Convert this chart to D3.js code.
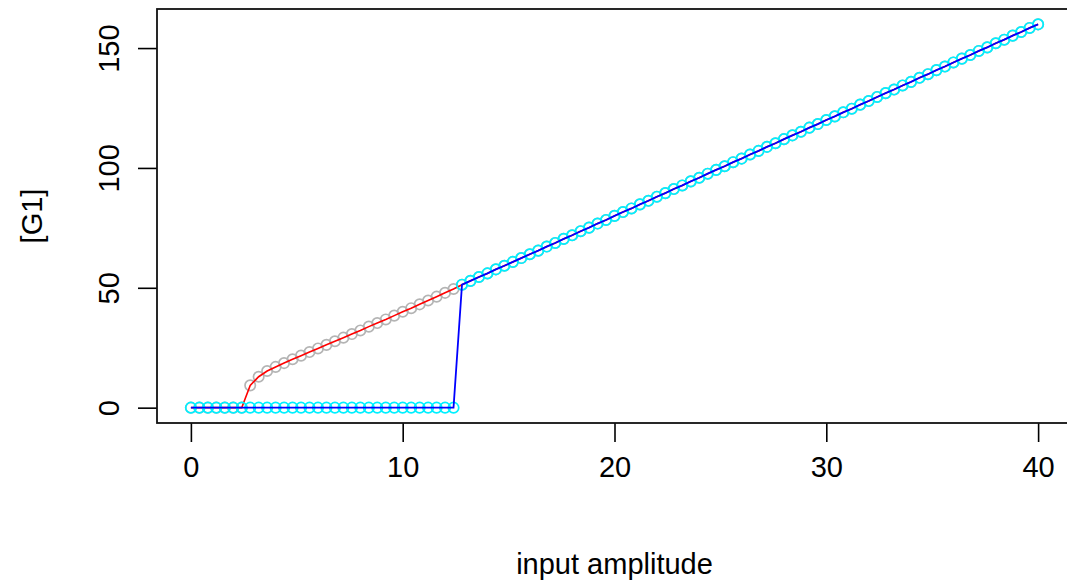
<!DOCTYPE html>
<html>
<head>
<meta charset="utf-8">
<script src="https://cdn.jsdelivr.net/npm/d3@7"></script>
<style>
  html, body { margin: 0; padding: 0; background: #fff; }
  svg { display: block; }
  text { font-family: "Liberation Sans", Arial, sans-serif; fill: #000; }
</style>
</head>
<body>
<svg id="chart" width="1067" height="584"></svg>
<script>
// Input amplitude sweep (x values shared by both branches)
const amplitude = [
  0.0, 0.4, 0.8, 1.2, 1.6, 2.0, 2.4, 2.8, 3.2, 3.6,
  4.0, 4.4, 4.8, 5.2, 5.6, 6.0, 6.4, 6.8, 7.2, 7.6,
  8.0, 8.4, 8.8, 9.2, 9.6, 10.0, 10.4, 10.8, 11.2, 11.6,
  12.0, 12.4, 12.8, 13.2, 13.6, 14.0, 14.4, 14.8, 15.2, 15.6,
  16.0, 16.4, 16.8, 17.2, 17.6, 18.0, 18.4, 18.8, 19.2, 19.6,
  20.0, 20.4, 20.8, 21.2, 21.6, 22.0, 22.4, 22.8, 23.2, 23.6,
  24.0, 24.4, 24.8, 25.2, 25.6, 26.0, 26.4, 26.8, 27.2, 27.6,
  28.0, 28.4, 28.8, 29.2, 29.6, 30.0, 30.4, 30.8, 31.2, 31.6,
  32.0, 32.4, 32.8, 33.2, 33.6, 34.0, 34.4, 34.8, 35.2, 35.6,
  36.0, 36.4, 36.8, 37.2, 37.6, 38.0, 38.4, 38.8, 39.2, 39.6,
  40.0
];

// Upper branch response, shared by both sweeps above the jump
const upperBranch = [
  51.3, 52.9, 54.5, 56.0, 57.7, 59.2, 60.8, 62.4, 64.0,
  65.5, 67.2, 68.7, 70.4, 71.9, 73.6, 75.1, 76.8, 78.3, 80.0,
  81.6, 83.1, 84.8, 86.3, 88.0, 89.5, 91.2, 92.7, 94.4, 95.9,
  97.6, 99.2, 100.7, 102.4, 103.9, 105.6, 107.1, 108.8, 110.3, 112.0,
  113.6, 115.1, 116.8, 118.3, 120.0, 121.5, 123.2, 124.7, 126.4, 127.9,
  129.6, 131.2, 132.7, 134.4, 135.9, 137.6, 139.1, 140.8, 142.3, 144.0,
  145.6, 147.1, 148.8, 150.3, 152.0, 153.5, 155.2, 156.7, 158.4, 159.9
];

// Decreasing sweep: stays on the upper branch down to 2.8, then falls to 0
const downSweepLow = [0, 0, 0, 0, 0, 0, 0];
const downSweepMid = [
  9.3, 12.9, 15.3, 17.0, 18.6, 20.2, 21.7, 23.2, 24.7, 26.2,
  27.7, 29.2, 30.7, 32.2, 33.8, 35.3, 36.8, 38.4, 40.0, 41.5,
  43.1, 44.7, 46.3, 47.9, 49.5
];

// Increasing sweep: stays at 0 up to 12.4, then jumps to the upper branch
const upSweepLow = [
  0, 0, 0, 0, 0, 0, 0, 0, 0, 0,
  0, 0, 0, 0, 0, 0, 0, 0, 0, 0,
  0, 0, 0, 0, 0, 0, 0, 0, 0, 0,
  0, 0
];

const xTicks = [0, 10, 20, 30, 40];
const yTicks = [0, 50, 100, 150];
const xLabel = "input amplitude";
const yLabel = "[G1]";

const downSweep = downSweepLow.concat(downSweepMid, upperBranch);
const upSweep = upSweepLow.concat(upperBranch);

const downData = amplitude.map((x, i) => ({ x, y: downSweep[i] }));
const upData = amplitude.map((x, i) => ({ x, y: upSweep[i] }));

const svg = d3.select("#chart");
const plot = { left: 157, right: 1072, top: 9, bottom: 423 };

// 4% padding on each side of the data range
function padded(ext) {
  const d = (ext[1] - ext[0]) * 0.04;
  return [ext[0] - d, ext[1] + d];
}
const allY = downSweep.concat(upSweep);

const x = d3.scaleLinear()
  .domain(padded(d3.extent(amplitude)))
  .range([plot.left, plot.right]);
const y = d3.scaleLinear()
  .domain(padded(d3.extent(allY)))
  .range([plot.bottom, plot.top]);

const fontSize = 29;

// Axes
const xAxis = svg.append("g")
  .attr("transform", `translate(0,${plot.bottom})`)
  .call(d3.axisBottom(x).tickValues(xTicks).tickSize(19).tickPadding(14).tickFormat(d3.format("d")));
xAxis.select(".domain").remove();
xAxis.selectAll(".tick line").attr("stroke", "#000").attr("stroke-width", 1.6);
xAxis.selectAll(".tick text")
  .attr("font-size", fontSize)
  .attr("font-family", "Liberation Sans, Arial, sans-serif")
  .attr("fill", "#000");

const yAxis = svg.append("g")
  .attr("transform", `translate(${plot.left},0)`)
  .call(d3.axisLeft(y).tickValues(yTicks).tickSize(19).tickFormat(d3.format("d")));
yAxis.select(".domain").remove();
yAxis.selectAll(".tick line").attr("stroke", "#000").attr("stroke-width", 1.6);
yAxis.selectAll(".tick text")
  .attr("font-size", fontSize)
  .attr("font-family", "Liberation Sans, Arial, sans-serif")
  .attr("fill", "#000")
  .attr("x", null)
  .attr("dy", null)
  .attr("text-anchor", "middle")
  .attr("transform", "translate(-38,0) rotate(-90)");

// Plot frame
svg.append("rect")
  .attr("x", plot.left)
  .attr("y", plot.top)
  .attr("width", plot.right - plot.left)
  .attr("height", plot.bottom - plot.top)
  .attr("fill", "none")
  .attr("stroke", "#111")
  .attr("stroke-width", 1.8);

// Axis titles
svg.append("text")
  .attr("x", (plot.left + plot.right) / 2)
  .attr("y", 574)
  .attr("text-anchor", "middle")
  .attr("font-size", fontSize)
  .text(xLabel);

svg.append("text")
  .attr("transform", `translate(42,${(plot.top + plot.bottom) / 2}) rotate(-90)`)
  .attr("text-anchor", "middle")
  .attr("font-size", fontSize)
  .text(yLabel);

const line = d3.line().x(d => x(d.x)).y(d => y(d.y));
const marks = svg.append("g");

// Decreasing sweep: grey circles with red line
marks.append("g").selectAll("circle").data(downData).join("circle")
  .attr("cx", d => x(d.x)).attr("cy", d => y(d.y)).attr("r", 5.2)
  .attr("fill", "none").attr("stroke", "#b4b4b4").attr("stroke-width", 1.7);
marks.append("path").datum(downData)
  .attr("d", line).attr("fill", "none").attr("stroke", "#ff0000").attr("stroke-width", 1.6);

// Increasing sweep: cyan circles with blue line
marks.append("g").selectAll("circle").data(upData).join("circle")
  .attr("cx", d => x(d.x)).attr("cy", d => y(d.y)).attr("r", 5.2)
  .attr("fill", "none").attr("stroke", "#00f0ff").attr("stroke-width", 1.7);
marks.append("path").datum(upData)
  .attr("d", line).attr("fill", "none").attr("stroke", "#0000ff").attr("stroke-width", 1.8);
</script>
</body>
</html>
